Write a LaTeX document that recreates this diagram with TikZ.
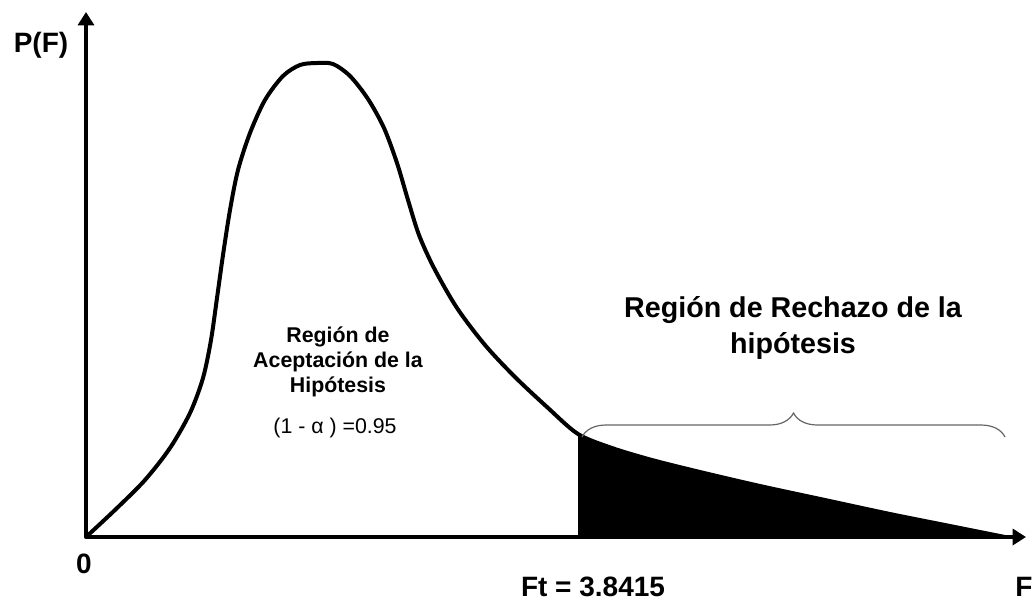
\documentclass[tikz,border=0pt]{standalone}
\usepackage{fontspec}
\setmainfont{Liberation Sans}
\usetikzlibrary{arrows.meta,decorations.pathreplacing}
\tikzset{
  axis/.style={line width=3.4pt,-{Triangle[length=10pt,width=12pt]}},
  density/.style={line width=3pt,line join=round,line cap=round},
  bigbold/.style={font=\fontsize{21}{24}\selectfont\bfseries,inner sep=0pt},
  midbold/.style={font=\fontsize{16}{18.75}\selectfont\bfseries,inner sep=0pt,align=center},
  regtext/.style={font=\fontsize{16}{18.75}\selectfont,inner sep=0pt},
  rejtext/.style={font=\fontsize{21.5}{27}\selectfont\bfseries,inner sep=0pt,align=center},
  bracestyle/.style={draw=gray!80!black,line width=0.9pt,decorate,decoration={brace,amplitude=18pt}}
}
\begin{document}
\begin{tikzpicture}[x=0.75pt,y=-0.75pt]
\useasboundingbox (0,0) rectangle (1032,601);
\coordinate (O) at (86,537);
\coordinate (ytip) at (86,12);
\coordinate (xtip) at (1026,537);
\coordinate (ftbase) at (578,537);
\coordinate (bl) at (582,437);
\coordinate (br) at (1005,437);
% rejection region fill
\fill[black] plot[smooth,tension=0.5] coordinates {(578,434) (612,448) (652,460) (700,472) (760,486) (825,500) (890,514) (950,526) (1005,537)} -- (ftbase) -- cycle;
% density curve
\draw[density] plot[smooth,tension=0.5] coordinates {(86,537) (116,509) (145,480) (170,448) (190,413) (203,378) (211,340) (217,298) (223,255) (230,210) (238,170) (250,133) (265,100) (283,76) (300,65) (317,63) (333,64) (350,76) (368,99) (384,128) (397,163) (408,200) (419,235) (434,268) (457,308) (485,345) (515,377) (547,407) (578,434) (612,448) (652,460) (700,472) (760,486) (825,500) (890,514) (950,526) (1005,537)};
% axes
\draw[axis] (O) -- (ytip);
\draw[axis] (O) -- (xtip);
% brace
\draw[bracestyle] (bl) -- (br);
% labels
\node[bigbold,anchor=base] (pf) at (41,52) {P(F)};
\node[bigbold,anchor=base] (zero) at (84,573) {0};
\node[bigbold,anchor=base] (ftlab) at (593,596) {Ft = 3.8415};
\node[bigbold,anchor=base] (flab) at (1024,596) {F};
\node[midbold,anchor=north] (acc) at (338,327) {Región de\\Aceptación de la\\Hipótesis};
\node[regtext,anchor=base] (alpha) at (335,433) {(1 - α ) =0.95};
\node[rejtext,anchor=north] (rej) at (793,296) {Región de Rechazo de la\\hipótesis};
\end{tikzpicture}
\end{document}
